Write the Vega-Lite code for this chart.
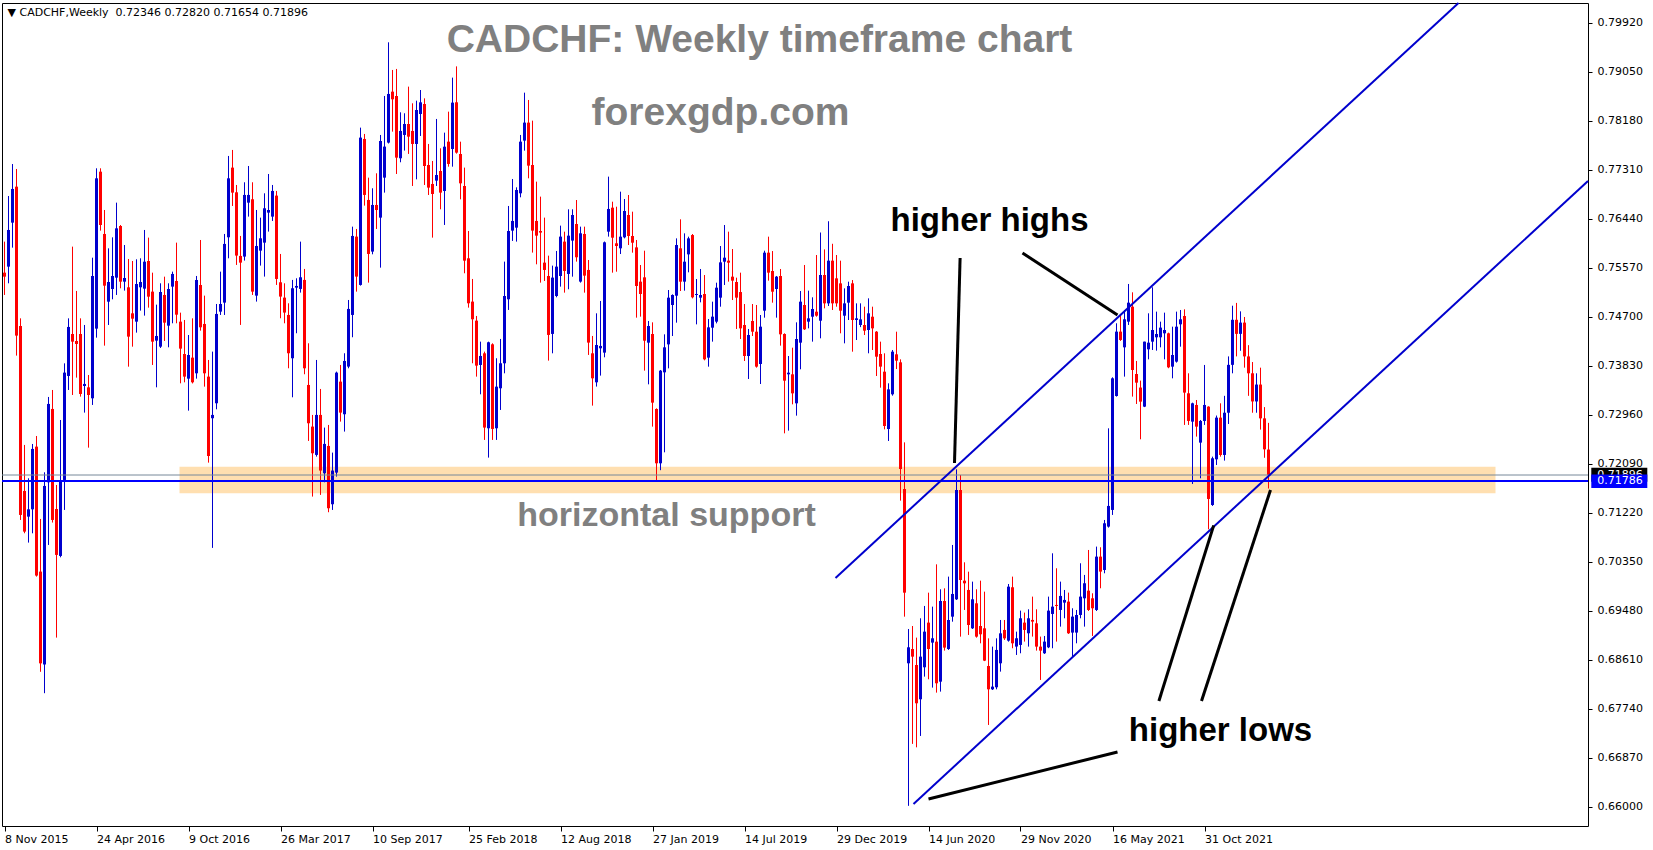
{
"$schema":"https://vega.github.io/schema/vega-lite/v6.json",
"width":1586,"height":823,
"padding":{"left":2,"top":3,"right":65,"bottom":24},
"autosize":{"type":"none"},
"background":"white",
"config":{"view":{"stroke":"black","strokeWidth":1},
 "axisX":{"grid":false,"domain":false,"tickColor":"black","tickSize":5,"labelAlign":"left","labelBaseline":"top","labelPadding":2,"labelFont":"DejaVu Sans","labelFontSize":11,"labelColor":"black","labelOverlap":false},
 "axisY":{"grid":false,"domain":false,"tickColor":"black","tickSize":4,"labelPadding":5,"labelFont":"DejaVu Sans","labelFontSize":11,"labelColor":"black","labelAlign":"left","labelBaseline":"middle","labelOverlap":false}},
"datasets":{
"candles":[
{"i":0,"o":0.75487,"h":0.76038,"l":0.75091,"c":0.75416},
{"i":1,"o":0.75594,"h":0.76848,"l":0.75298,"c":0.76245},
{"i":2,"o":0.76375,"h":0.77416,"l":0.75931,"c":0.76973},
{"i":3,"o":0.77014,"h":0.77328,"l":0.74014,"c":0.74369},
{"i":4,"o":0.74540,"h":0.74676,"l":0.71096,"c":0.71185},
{"i":5,"o":0.71611,"h":0.72428,"l":0.70860,"c":0.70889},
{"i":6,"o":0.71155,"h":0.71836,"l":0.70694,"c":0.71285},
{"i":7,"o":0.71285,"h":0.72445,"l":0.70859,"c":0.72357},
{"i":8,"o":0.72398,"h":0.72587,"l":0.70090,"c":0.70108},
{"i":9,"o":0.70179,"h":0.71114,"l":0.68400,"c":0.68550},
{"i":10,"o":0.68530,"h":0.71942,"l":0.68020,"c":0.71700},
{"i":11,"o":0.71765,"h":0.73280,"l":0.70652,"c":0.73156},
{"i":12,"o":0.73067,"h":0.73404,"l":0.71050,"c":0.71096},
{"i":13,"o":0.71291,"h":0.71717,"l":0.69007,"c":0.70475},
{"i":14,"o":0.70457,"h":0.72871,"l":0.70433,"c":0.71806},
{"i":15,"o":0.71806,"h":0.73877,"l":0.71274,"c":0.73712},
{"i":16,"o":0.73653,"h":0.74676,"l":0.73404,"c":0.74523},
{"i":17,"o":0.74398,"h":0.75949,"l":0.73315,"c":0.74262},
{"i":18,"o":0.74274,"h":0.75162,"l":0.73623,"c":0.74221},
{"i":19,"o":0.74398,"h":0.74676,"l":0.73286,"c":0.73333},
{"i":20,"o":0.73475,"h":0.74558,"l":0.73002,"c":0.73511},
{"i":21,"o":0.73451,"h":0.73670,"l":0.72380,"c":0.73315},
{"i":22,"o":0.73256,"h":0.75753,"l":0.73138,"c":0.75428},
{"i":23,"o":0.74493,"h":0.77340,"l":0.74333,"c":0.77162},
{"i":24,"o":0.77280,"h":0.77340,"l":0.76233,"c":0.76333},
{"i":25,"o":0.76174,"h":0.76600,"l":0.74191,"c":0.75256},
{"i":26,"o":0.74972,"h":0.75919,"l":0.74558,"c":0.75321},
{"i":27,"o":0.75197,"h":0.76114,"l":0.75014,"c":0.75428},
{"i":28,"o":0.75398,"h":0.76730,"l":0.75091,"c":0.76274},
{"i":29,"o":0.76316,"h":0.76333,"l":0.75209,"c":0.75327},
{"i":30,"o":0.75327,"h":0.75978,"l":0.75168,"c":0.75392},
{"i":31,"o":0.75227,"h":0.75730,"l":0.73818,"c":0.74351},
{"i":32,"o":0.74765,"h":0.75694,"l":0.74173,"c":0.74670},
{"i":33,"o":0.74617,"h":0.75724,"l":0.74422,"c":0.75286},
{"i":34,"o":0.75227,"h":0.75742,"l":0.74813,"c":0.75321},
{"i":35,"o":0.75203,"h":0.76245,"l":0.74724,"c":0.75682},
{"i":36,"o":0.75694,"h":0.76109,"l":0.74866,"c":0.75061},
{"i":37,"o":0.75150,"h":0.75487,"l":0.73848,"c":0.74262},
{"i":38,"o":0.74280,"h":0.74919,"l":0.73451,"c":0.74363},
{"i":39,"o":0.74173,"h":0.75298,"l":0.74150,"c":0.75144},
{"i":40,"o":0.75091,"h":0.75416,"l":0.74274,"c":0.74599},
{"i":41,"o":0.74546,"h":0.75298,"l":0.74162,"c":0.75197},
{"i":42,"o":0.75239,"h":0.75505,"l":0.74588,"c":0.75464},
{"i":43,"o":0.75339,"h":0.76020,"l":0.74588,"c":0.74741},
{"i":44,"o":0.74617,"h":0.74777,"l":0.73522,"c":0.74138},
{"i":45,"o":0.74043,"h":0.74647,"l":0.73540,"c":0.73641},
{"i":46,"o":0.73605,"h":0.74380,"l":0.73037,"c":0.74025},
{"i":47,"o":0.73978,"h":0.74676,"l":0.73520,"c":0.73540},
{"i":48,"o":0.73700,"h":0.75428,"l":0.73605,"c":0.75357},
{"i":49,"o":0.75268,"h":0.76067,"l":0.74457,"c":0.74517},
{"i":50,"o":0.74576,"h":0.75079,"l":0.73463,"c":0.73700},
{"i":51,"o":0.73641,"h":0.73937,"l":0.72114,"c":0.72232},
{"i":52,"o":0.72902,"h":0.74085,"l":0.70600,"c":0.72961},
{"i":53,"o":0.73168,"h":0.74931,"l":0.73061,"c":0.74754},
{"i":54,"o":0.74795,"h":0.75505,"l":0.74736,"c":0.74931},
{"i":55,"o":0.74955,"h":0.76174,"l":0.74736,"c":0.75997},
{"i":56,"o":0.76115,"h":0.77559,"l":0.75742,"c":0.77162},
{"i":57,"o":0.77352,"h":0.77666,"l":0.76671,"c":0.76908},
{"i":58,"o":0.76914,"h":0.77044,"l":0.75624,"c":0.75790},
{"i":59,"o":0.75784,"h":0.76139,"l":0.74559,"c":0.75665},
{"i":60,"o":0.75772,"h":0.77092,"l":0.75701,"c":0.76867},
{"i":61,"o":0.76730,"h":0.77381,"l":0.76482,"c":0.76867},
{"i":62,"o":0.76790,"h":0.77092,"l":0.75091,"c":0.75150},
{"i":63,"o":0.75079,"h":0.76600,"l":0.74973,"c":0.75961},
{"i":64,"o":0.75878,"h":0.76464,"l":0.75612,"c":0.76097},
{"i":65,"o":0.76020,"h":0.76896,"l":0.75417,"c":0.76630},
{"i":66,"o":0.76553,"h":0.77239,"l":0.76216,"c":0.76600},
{"i":67,"o":0.76482,"h":0.77044,"l":0.76405,"c":0.76938},
{"i":68,"o":0.76855,"h":0.76938,"l":0.75269,"c":0.75375},
{"i":69,"o":0.75316,"h":0.75819,"l":0.74677,"c":0.75062},
{"i":70,"o":0.75044,"h":0.75298,"l":0.74588,"c":0.74778},
{"i":71,"o":0.74736,"h":0.74943,"l":0.73789,"c":0.74056},
{"i":72,"o":0.73967,"h":0.75358,"l":0.73274,"c":0.75210},
{"i":73,"o":0.75221,"h":0.75387,"l":0.74411,"c":0.75251},
{"i":74,"o":0.75198,"h":0.76038,"l":0.75133,"c":0.75405},
{"i":75,"o":0.75358,"h":0.75553,"l":0.73683,"c":0.73789},
{"i":76,"o":0.73493,"h":0.74233,"l":0.72499,"c":0.72813},
{"i":77,"o":0.72754,"h":0.72961,"l":0.71511,"c":0.72280},
{"i":78,"o":0.72251,"h":0.73937,"l":0.72221,"c":0.72961},
{"i":79,"o":0.72961,"h":0.73422,"l":0.71541,"c":0.71973},
{"i":80,"o":0.71925,"h":0.72736,"l":0.71765,"c":0.72446},
{"i":81,"o":0.72410,"h":0.72783,"l":0.71233,"c":0.71304},
{"i":82,"o":0.71375,"h":0.72292,"l":0.71274,"c":0.71973},
{"i":83,"o":0.71937,"h":0.73730,"l":0.71866,"c":0.73712},
{"i":84,"o":0.73552,"h":0.73848,"l":0.72842,"c":0.73002},
{"i":85,"o":0.72973,"h":0.74056,"l":0.72665,"c":0.73919},
{"i":86,"o":0.73819,"h":0.75002,"l":0.73789,"c":0.74843},
{"i":87,"o":0.74736,"h":0.76304,"l":0.74340,"c":0.76139},
{"i":88,"o":0.76127,"h":0.76263,"l":0.75150,"c":0.75417},
{"i":89,"o":0.75269,"h":0.78062,"l":0.75257,"c":0.77885},
{"i":90,"o":0.77861,"h":0.77950,"l":0.76677,"c":0.76867},
{"i":91,"o":0.76778,"h":0.77174,"l":0.75310,"c":0.75819},
{"i":92,"o":0.75861,"h":0.76985,"l":0.75813,"c":0.76689},
{"i":93,"o":0.76689,"h":0.77251,"l":0.76263,"c":0.76600},
{"i":94,"o":0.76464,"h":0.77932,"l":0.75576,"c":0.77825},
{"i":95,"o":0.77174,"h":0.78624,"l":0.76908,"c":0.77725},
{"i":96,"o":0.77796,"h":0.79577,"l":0.77780,"c":0.78660},
{"i":97,"o":0.78701,"h":0.79086,"l":0.77991,"c":0.78565},
{"i":98,"o":0.78624,"h":0.79104,"l":0.77239,"c":0.77529},
{"i":99,"o":0.77518,"h":0.78334,"l":0.77447,"c":0.78003},
{"i":100,"o":0.77932,"h":0.78317,"l":0.77654,"c":0.78127},
{"i":101,"o":0.78127,"h":0.78790,"l":0.77595,"c":0.77902},
{"i":102,"o":0.78003,"h":0.78494,"l":0.77026,"c":0.77772},
{"i":103,"o":0.77772,"h":0.78541,"l":0.77144,"c":0.78375},
{"i":104,"o":0.78304,"h":0.78730,"l":0.77914,"c":0.78511},
{"i":105,"o":0.78482,"h":0.78582,"l":0.77044,"c":0.77381},
{"i":106,"o":0.77399,"h":0.77772,"l":0.76866,"c":0.76997},
{"i":107,"o":0.77062,"h":0.77470,"l":0.76109,"c":0.76884},
{"i":108,"o":0.77121,"h":0.78216,"l":0.77026,"c":0.77221},
{"i":109,"o":0.77292,"h":0.77695,"l":0.76612,"c":0.76908},
{"i":110,"o":0.76937,"h":0.77973,"l":0.76334,"c":0.77724},
{"i":111,"o":0.77813,"h":0.78346,"l":0.77369,"c":0.77417},
{"i":112,"o":0.77683,"h":0.78950,"l":0.77369,"c":0.78506},
{"i":113,"o":0.78512,"h":0.79150,"l":0.77600,"c":0.77618},
{"i":114,"o":0.77594,"h":0.77813,"l":0.76789,"c":0.77073},
{"i":115,"o":0.77026,"h":0.77352,"l":0.75476,"c":0.75700},
{"i":116,"o":0.75742,"h":0.76227,"l":0.74866,"c":0.74943},
{"i":117,"o":0.74973,"h":0.75375,"l":0.73878,"c":0.74659},
{"i":118,"o":0.74635,"h":0.74718,"l":0.73641,"c":0.73836},
{"i":119,"o":0.73848,"h":0.74262,"l":0.73327,"c":0.74008},
{"i":120,"o":0.74055,"h":0.74085,"l":0.72517,"c":0.72736},
{"i":121,"o":0.72724,"h":0.74262,"l":0.72203,"c":0.74251},
{"i":122,"o":0.74215,"h":0.74233,"l":0.72517,"c":0.72712},
{"i":123,"o":0.72724,"h":0.73967,"l":0.72517,"c":0.73463},
{"i":124,"o":0.73434,"h":0.74310,"l":0.73049,"c":0.73878},
{"i":125,"o":0.73878,"h":0.75683,"l":0.73700,"c":0.75073},
{"i":126,"o":0.75014,"h":0.76671,"l":0.74825,"c":0.76227},
{"i":127,"o":0.76233,"h":0.77150,"l":0.76050,"c":0.76405},
{"i":128,"o":0.76286,"h":0.77002,"l":0.76038,"c":0.76955},
{"i":129,"o":0.76896,"h":0.77932,"l":0.76825,"c":0.77813},
{"i":130,"o":0.77831,"h":0.78683,"l":0.77653,"c":0.78151},
{"i":131,"o":0.78151,"h":0.78553,"l":0.77162,"c":0.77387},
{"i":132,"o":0.77399,"h":0.78186,"l":0.75843,"c":0.76233},
{"i":133,"o":0.76405,"h":0.77103,"l":0.75635,"c":0.76144},
{"i":134,"o":0.76227,"h":0.76837,"l":0.75310,"c":0.76198},
{"i":135,"o":0.75665,"h":0.76464,"l":0.75339,"c":0.75535},
{"i":136,"o":0.75428,"h":0.75789,"l":0.73925,"c":0.74381},
{"i":137,"o":0.74399,"h":0.75612,"l":0.74055,"c":0.75399},
{"i":138,"o":0.75073,"h":0.75872,"l":0.75050,"c":0.75594},
{"i":139,"o":0.75428,"h":0.76322,"l":0.75239,"c":0.76127},
{"i":140,"o":0.76038,"h":0.76215,"l":0.75132,"c":0.75517},
{"i":141,"o":0.75464,"h":0.76612,"l":0.75192,"c":0.76144},
{"i":142,"o":0.76056,"h":0.76612,"l":0.75416,"c":0.76511},
{"i":143,"o":0.76351,"h":0.76777,"l":0.75683,"c":0.75760},
{"i":144,"o":0.75328,"h":0.76304,"l":0.75310,"c":0.76186},
{"i":145,"o":0.76174,"h":0.76304,"l":0.75132,"c":0.75434},
{"i":146,"o":0.75535,"h":0.75712,"l":0.74026,"c":0.74245},
{"i":147,"o":0.74055,"h":0.74363,"l":0.73126,"c":0.73611},
{"i":148,"o":0.73540,"h":0.74765,"l":0.73464,"c":0.74203},
{"i":149,"o":0.74144,"h":0.74984,"l":0.73659,"c":0.74186},
{"i":150,"o":0.74067,"h":0.76040,"l":0.73984,"c":0.76026},
{"i":151,"o":0.76215,"h":0.77192,"l":0.76127,"c":0.76618},
{"i":152,"o":0.76641,"h":0.76747,"l":0.75487,"c":0.76108},
{"i":153,"o":0.76008,"h":0.76658,"l":0.75504,"c":0.75960},
{"i":154,"o":0.75919,"h":0.76925,"l":0.75818,"c":0.76126},
{"i":155,"o":0.76114,"h":0.76795,"l":0.76096,"c":0.76582},
{"i":156,"o":0.76511,"h":0.76866,"l":0.75978,"c":0.76138},
{"i":157,"o":0.76138,"h":0.76570,"l":0.75842,"c":0.76019},
{"i":158,"o":0.75936,"h":0.76067,"l":0.74688,"c":0.75250},
{"i":159,"o":0.75327,"h":0.75623,"l":0.74706,"c":0.75108},
{"i":160,"o":0.75404,"h":0.75877,"l":0.73747,"c":0.74279},
{"i":161,"o":0.74244,"h":0.74629,"l":0.73504,"c":0.74540},
{"i":162,"o":0.74398,"h":0.74605,"l":0.72753,"c":0.73179},
{"i":163,"o":0.73066,"h":0.73078,"l":0.71780,"c":0.72102},
{"i":164,"o":0.72102,"h":0.73759,"l":0.71980,"c":0.73747},
{"i":165,"o":0.73717,"h":0.74392,"l":0.72297,"c":0.74161},
{"i":166,"o":0.74214,"h":0.75179,"l":0.73788,"c":0.75043},
{"i":167,"o":0.74913,"h":0.75102,"l":0.74362,"c":0.75090},
{"i":168,"o":0.75078,"h":0.76096,"l":0.74599,"c":0.75978},
{"i":169,"o":0.75919,"h":0.76434,"l":0.75161,"c":0.75327},
{"i":170,"o":0.75327,"h":0.76185,"l":0.75167,"c":0.75682},
{"i":171,"o":0.75812,"h":0.76126,"l":0.75493,"c":0.76096},
{"i":172,"o":0.76155,"h":0.76173,"l":0.75030,"c":0.75049},
{"i":173,"o":0.75090,"h":0.75374,"l":0.74569,"c":0.75108},
{"i":174,"o":0.75043,"h":0.75552,"l":0.74960,"c":0.75090},
{"i":175,"o":0.75108,"h":0.75445,"l":0.73930,"c":0.73948},
{"i":176,"o":0.73978,"h":0.74664,"l":0.73818,"c":0.74516},
{"i":177,"o":0.74510,"h":0.74972,"l":0.74262,"c":0.74706},
{"i":178,"o":0.74617,"h":0.75309,"l":0.74587,"c":0.75220},
{"i":179,"o":0.75043,"h":0.75960,"l":0.74883,"c":0.75670},
{"i":180,"o":0.75682,"h":0.76333,"l":0.75268,"c":0.75753},
{"i":181,"o":0.75700,"h":0.76215,"l":0.75327,"c":0.75664},
{"i":182,"o":0.75416,"h":0.75907,"l":0.75001,"c":0.75345},
{"i":183,"o":0.75321,"h":0.75398,"l":0.74487,"c":0.75043},
{"i":184,"o":0.75143,"h":0.75487,"l":0.74309,"c":0.74498},
{"i":185,"o":0.74558,"h":0.74930,"l":0.73918,"c":0.74007},
{"i":186,"o":0.74007,"h":0.74487,"l":0.73599,"c":0.74380},
{"i":187,"o":0.74629,"h":0.74930,"l":0.74362,"c":0.74439},
{"i":188,"o":0.74439,"h":0.74913,"l":0.73800,"c":0.73818},
{"i":189,"o":0.73865,"h":0.74735,"l":0.73510,"c":0.74528},
{"i":190,"o":0.74812,"h":0.75877,"l":0.74688,"c":0.75842},
{"i":191,"o":0.75842,"h":0.76126,"l":0.75345,"c":0.75487},
{"i":192,"o":0.75516,"h":0.75871,"l":0.74954,"c":0.75149},
{"i":193,"o":0.75197,"h":0.75428,"l":0.74688,"c":0.75416},
{"i":194,"o":0.75428,"h":0.75552,"l":0.74191,"c":0.74392},
{"i":195,"o":0.74398,"h":0.74410,"l":0.72634,"c":0.73569},
{"i":196,"o":0.73682,"h":0.74007,"l":0.72682,"c":0.73711},
{"i":197,"o":0.73682,"h":0.74155,"l":0.73149,"c":0.73344},
{"i":198,"o":0.73167,"h":0.74605,"l":0.72948,"c":0.74309},
{"i":199,"o":0.74244,"h":0.75161,"l":0.73771,"c":0.74972},
{"i":200,"o":0.74913,"h":0.75623,"l":0.74469,"c":0.74481},
{"i":201,"o":0.74617,"h":0.75167,"l":0.74498,"c":0.74676},
{"i":202,"o":0.74705,"h":0.75049,"l":0.74262,"c":0.74842},
{"i":203,"o":0.74794,"h":0.75800,"l":0.74705,"c":0.74723},
{"i":204,"o":0.74634,"h":0.76200,"l":0.74321,"c":0.75445},
{"i":205,"o":0.75445,"h":0.75900,"l":0.74853,"c":0.74942},
{"i":206,"o":0.74942,"h":0.76400,"l":0.74895,"c":0.75700},
{"i":207,"o":0.75700,"h":0.76000,"l":0.74824,"c":0.74942},
{"i":208,"o":0.75386,"h":0.75800,"l":0.74883,"c":0.74942},
{"i":209,"o":0.75297,"h":0.75700,"l":0.74410,"c":0.74812},
{"i":210,"o":0.74723,"h":0.75208,"l":0.74232,"c":0.74942},
{"i":211,"o":0.74954,"h":0.75327,"l":0.74646,"c":0.75250},
{"i":212,"o":0.75297,"h":0.75356,"l":0.74084,"c":0.74646},
{"i":213,"o":0.74646,"h":0.74942,"l":0.74291,"c":0.74676},
{"i":214,"o":0.74558,"h":0.74942,"l":0.74520,"c":0.74658},
{"i":215,"o":0.74558,"h":0.74883,"l":0.74380,"c":0.74457},
{"i":216,"o":0.74469,"h":0.75031,"l":0.74055,"c":0.74765},
{"i":217,"o":0.74705,"h":0.74883,"l":0.74114,"c":0.74498},
{"i":218,"o":0.74439,"h":0.74450,"l":0.73652,"c":0.73995},
{"i":219,"o":0.74043,"h":0.74262,"l":0.73445,"c":0.73818},
{"i":220,"o":0.73729,"h":0.74055,"l":0.72705,"c":0.72764},
{"i":221,"o":0.72711,"h":0.73522,"l":0.72498,"c":0.73415},
{"i":222,"o":0.73327,"h":0.74114,"l":0.73303,"c":0.74084},
{"i":223,"o":0.74037,"h":0.74439,"l":0.73776,"c":0.73924},
{"i":224,"o":0.73895,"h":0.73948,"l":0.71439,"c":0.72001},
{"i":225,"o":0.71646,"h":0.72474,"l":0.69379,"c":0.69805},
{"i":226,"o":0.68551,"h":0.69160,"l":0.66020,"c":0.68835},
{"i":227,"o":0.68805,"h":0.69213,"l":0.67120,"c":0.68669},
{"i":228,"o":0.68521,"h":0.69007,"l":0.67059,"c":0.67841},
{"i":229,"o":0.67912,"h":0.69350,"l":0.67261,"c":0.68669},
{"i":230,"o":0.68480,"h":0.69569,"l":0.68314,"c":0.69113},
{"i":231,"o":0.69273,"h":0.69805,"l":0.68267,"c":0.68805},
{"i":232,"o":0.68918,"h":0.69557,"l":0.68119,"c":0.68995},
{"i":233,"o":0.68935,"h":0.70308,"l":0.68030,"c":0.68196},
{"i":234,"o":0.68225,"h":0.69865,"l":0.68048,"c":0.69657},
{"i":235,"o":0.69657,"h":0.69882,"l":0.68776,"c":0.68829},
{"i":236,"o":0.68805,"h":0.70090,"l":0.68788,"c":0.69320},
{"i":237,"o":0.69379,"h":0.70652,"l":0.69290,"c":0.69782},
{"i":238,"o":0.69687,"h":0.71995,"l":0.69675,"c":0.71628},
{"i":239,"o":0.71628,"h":0.71894,"l":0.69024,"c":0.70030},
{"i":240,"o":0.70018,"h":0.70344,"l":0.69498,"c":0.69971},
{"i":241,"o":0.69853,"h":0.70178,"l":0.69054,"c":0.69231},
{"i":242,"o":0.69172,"h":0.70001,"l":0.69160,"c":0.69687},
{"i":243,"o":0.69616,"h":0.69865,"l":0.69006,"c":0.69024},
{"i":244,"o":0.69213,"h":0.70018,"l":0.68906,"c":0.69066},
{"i":245,"o":0.69172,"h":0.69823,"l":0.68590,"c":0.68598},
{"i":246,"o":0.68503,"h":0.68994,"l":0.67456,"c":0.68089},
{"i":247,"o":0.68089,"h":0.68847,"l":0.68077,"c":0.68137},
{"i":248,"o":0.68125,"h":0.68994,"l":0.68089,"c":0.68788},
{"i":249,"o":0.68551,"h":0.69320,"l":0.68403,"c":0.69083},
{"i":250,"o":0.69143,"h":0.69320,"l":0.68965,"c":0.68994},
{"i":251,"o":0.68953,"h":0.69959,"l":0.68935,"c":0.69912},
{"i":252,"o":0.69901,"h":0.70090,"l":0.68818,"c":0.68906},
{"i":253,"o":0.68847,"h":0.69113,"l":0.68699,"c":0.68995},
{"i":254,"o":0.68877,"h":0.69486,"l":0.68729,"c":0.69350},
{"i":255,"o":0.69273,"h":0.69451,"l":0.68936,"c":0.69143},
{"i":256,"o":0.69084,"h":0.69510,"l":0.68847,"c":0.69350},
{"i":257,"o":0.69321,"h":0.69735,"l":0.69025,"c":0.69291},
{"i":258,"o":0.69261,"h":0.69510,"l":0.68776,"c":0.68847},
{"i":259,"o":0.68847,"h":0.69025,"l":0.68255,"c":0.68776},
{"i":260,"o":0.68729,"h":0.69036,"l":0.68717,"c":0.68936},
{"i":261,"o":0.68835,"h":0.69735,"l":0.68820,"c":0.69486},
{"i":262,"o":0.69427,"h":0.70504,"l":0.68818,"c":0.69557},
{"i":263,"o":0.69587,"h":0.70238,"l":0.68936,"c":0.69569},
{"i":264,"o":0.69498,"h":0.70001,"l":0.69202,"c":0.69747},
{"i":265,"o":0.69628,"h":0.69853,"l":0.69350,"c":0.69676},
{"i":266,"o":0.69646,"h":0.69806,"l":0.69072,"c":0.69084},
{"i":267,"o":0.69096,"h":0.69528,"l":0.68670,"c":0.69380},
{"i":268,"o":0.69096,"h":0.69498,"l":0.68906,"c":0.69409},
{"i":269,"o":0.69409,"h":0.70327,"l":0.69350,"c":0.69735},
{"i":270,"o":0.69705,"h":0.70120,"l":0.69202,"c":0.69972},
{"i":271,"o":0.69841,"h":0.70563,"l":0.69480,"c":0.69498},
{"i":272,"o":0.69705,"h":0.69794,"l":0.69036,"c":0.69528},
{"i":273,"o":0.69498,"h":0.70623,"l":0.69480,"c":0.70445},
{"i":274,"o":0.70445,"h":0.70611,"l":0.69883,"c":0.70179},
{"i":275,"o":0.70208,"h":0.71096,"l":0.70149,"c":0.71037},
{"i":276,"o":0.70978,"h":0.72723,"l":0.70960,"c":0.71345},
{"i":277,"o":0.71274,"h":0.73629,"l":0.71185,"c":0.73611},
{"i":278,"o":0.73297,"h":0.74588,"l":0.73286,"c":0.74440},
{"i":279,"o":0.74440,"h":0.74736,"l":0.74275,"c":0.74292},
{"i":280,"o":0.74161,"h":0.74824,"l":0.73641,"c":0.74659},
{"i":281,"o":0.74617,"h":0.75286,"l":0.74558,"c":0.74954},
{"i":282,"o":0.74883,"h":0.75138,"l":0.73286,"c":0.73759},
{"i":283,"o":0.73688,"h":0.73919,"l":0.73155,"c":0.73534},
{"i":284,"o":0.73447,"h":0.73570,"l":0.72528,"c":0.73197},
{"i":285,"o":0.73108,"h":0.74262,"l":0.73100,"c":0.74262},
{"i":286,"o":0.74126,"h":0.74765,"l":0.73948,"c":0.74244},
{"i":287,"o":0.74262,"h":0.75227,"l":0.74114,"c":0.74469},
{"i":288,"o":0.74339,"h":0.74795,"l":0.74102,"c":0.74398},
{"i":289,"o":0.74339,"h":0.74617,"l":0.74161,"c":0.74511},
{"i":290,"o":0.74410,"h":0.74777,"l":0.73948,"c":0.74469},
{"i":291,"o":0.74410,"h":0.74422,"l":0.73790,"c":0.73806},
{"i":292,"o":0.73818,"h":0.74528,"l":0.73611,"c":0.74025},
{"i":293,"o":0.73907,"h":0.74795,"l":0.73890,"c":0.74528},
{"i":294,"o":0.74570,"h":0.74824,"l":0.74173,"c":0.74659},
{"i":295,"o":0.74718,"h":0.74836,"l":0.72783,"c":0.73357},
{"i":296,"o":0.73345,"h":0.73700,"l":0.72783,"c":0.72854},
{"i":297,"o":0.72842,"h":0.73179,"l":0.71735,"c":0.73167},
{"i":298,"o":0.73138,"h":0.73226,"l":0.72576,"c":0.72753},
{"i":299,"o":0.72469,"h":0.72871,"l":0.71836,"c":0.72854},
{"i":300,"o":0.72854,"h":0.73848,"l":0.72783,"c":0.73138},
{"i":301,"o":0.73108,"h":0.73115,"l":0.70930,"c":0.71469},
{"i":302,"o":0.71362,"h":0.72220,"l":0.71345,"c":0.72191},
{"i":303,"o":0.72173,"h":0.72950,"l":0.72072,"c":0.72913},
{"i":304,"o":0.72913,"h":0.73167,"l":0.72220,"c":0.72250},
{"i":305,"o":0.72250,"h":0.73300,"l":0.72150,"c":0.73000},
{"i":306,"o":0.73000,"h":0.74000,"l":0.72800,"c":0.73850},
{"i":307,"o":0.73850,"h":0.74900,"l":0.73700,"c":0.74650},
{"i":308,"o":0.74650,"h":0.74950,"l":0.74000,"c":0.74400},
{"i":309,"o":0.74400,"h":0.74800,"l":0.74100,"c":0.74600},
{"i":310,"o":0.74600,"h":0.74700,"l":0.73800,"c":0.74000},
{"i":311,"o":0.74000,"h":0.74200,"l":0.73300,"c":0.73700},
{"i":312,"o":0.73700,"h":0.73900,"l":0.73000,"c":0.73200},
{"i":313,"o":0.73200,"h":0.73700,"l":0.73000,"c":0.73500},
{"i":314,"o":0.73500,"h":0.73800,"l":0.72700,"c":0.72900},
{"i":315,"o":0.72900,"h":0.73100,"l":0.72200,"c":0.72350},
{"i":316,"o":0.72346,"h":0.72820,"l":0.71654,"c":0.71896}
]
},
"layer":[
{"data":{"values":[{"x1":43.75,"x2":372.75,"y1":0.72042,"y2":0.71570}]},
 "mark":{"type":"rect","color":"#FFDFB0"},
 "encoding":{"x":{"field":"x1","type":"quantitative","scale":{"domain":[-0.625,395.875],"nice":false,"zero":false},"title":null,
   "axis":{"values":[0,23,46,69,92,116,139,162,185,208,231,254,277,300],"labelExpr":"['8 Nov 2015','24 Apr 2016','9 Oct 2016','26 Mar 2017','10 Sep 2017','25 Feb 2018','12 Aug 2018','27 Jan 2019','14 Jul 2019','29 Dec 2019','14 Jun 2020','29 Nov 2020','16 May 2021','31 Oct 2021'][indexof([0,23,46,69,92,116,139,162,185,208,231,254,277,300], datum.value)]","title":null}},
  "x2":{"field":"x2"},
  "y":{"field":"y1","type":"quantitative","scale":{"domain":[0.65662,0.80275],"nice":false,"zero":false},"title":null,
   "axis":{"orient":"right","values":[0.66,0.6687,0.6774,0.6861,0.6948,0.7035,0.7122,0.7209,0.7296,0.7383,0.747,0.7557,0.7644,0.7731,0.7818,0.7905,0.7992],"format":".5f","title":null}},
  "y2":{"field":"y2"}}},
{"data":{"name":"candles"},
 "mark":{"type":"rule","strokeWidth":1},
 "encoding":{"x":{"field":"i","type":"quantitative","scale":{"domain":[-0.625,395.875],"nice":false,"zero":false},"title":null,
   "axis":{"values":[0,23,46,69,92,116,139,162,185,208,231,254,277,300],"labelExpr":"['8 Nov 2015','24 Apr 2016','9 Oct 2016','26 Mar 2017','10 Sep 2017','25 Feb 2018','12 Aug 2018','27 Jan 2019','14 Jul 2019','29 Dec 2019','14 Jun 2020','29 Nov 2020','16 May 2021','31 Oct 2021'][indexof([0,23,46,69,92,116,139,162,185,208,231,254,277,300], datum.value)]","title":null}},
  "y":{"field":"l","type":"quantitative","scale":{"domain":[0.65662,0.80275],"nice":false,"zero":false},"title":null,
   "axis":{"orient":"right","values":[0.66,0.6687,0.6774,0.6861,0.6948,0.7035,0.7122,0.7209,0.7296,0.7383,0.747,0.7557,0.7644,0.7731,0.7818,0.7905,0.7992],"format":".5f","title":null}},
  "y2":{"field":"h"},
  "color":{"condition":{"test":"datum.c >= datum.o","value":"#0000CD"},"value":"#FF0000"}}},
{"data":{"name":"candles"},
 "mark":{"type":"rule","strokeWidth":3},
 "encoding":{"x":{"field":"i","type":"quantitative","scale":{"domain":[-0.625,395.875],"nice":false,"zero":false},"title":null,
   "axis":{"values":[0,23,46,69,92,116,139,162,185,208,231,254,277,300],"labelExpr":"['8 Nov 2015','24 Apr 2016','9 Oct 2016','26 Mar 2017','10 Sep 2017','25 Feb 2018','12 Aug 2018','27 Jan 2019','14 Jul 2019','29 Dec 2019','14 Jun 2020','29 Nov 2020','16 May 2021','31 Oct 2021'][indexof([0,23,46,69,92,116,139,162,185,208,231,254,277,300], datum.value)]","title":null}},
  "y":{"field":"o","type":"quantitative","scale":{"domain":[0.65662,0.80275],"nice":false,"zero":false},"title":null,
   "axis":{"orient":"right","values":[0.66,0.6687,0.6774,0.6861,0.6948,0.7035,0.7122,0.7209,0.7296,0.7383,0.747,0.7557,0.7644,0.7731,0.7818,0.7905,0.7992],"format":".5f","title":null}},
  "y2":{"field":"c"},
  "color":{"condition":{"test":"datum.c >= datum.o","value":"#0000CD"},"value":"#FF0000"}}},
{"data":{"values":[{"p":0.71894}]},
 "mark":{"type":"rule","color":"#778899","strokeWidth":1},
 "encoding":{"y":{"field":"p","type":"quantitative","scale":{"domain":[0.65662,0.80275],"nice":false,"zero":false},"title":null,
   "axis":{"orient":"right","values":[0.66,0.6687,0.6774,0.6861,0.6948,0.7035,0.7122,0.7209,0.7296,0.7383,0.747,0.7557,0.7644,0.7731,0.7818,0.7905,0.7992],"format":".5f","title":null}}}},
{"data":{"values":[{"p":0.71786}]},
 "mark":{"type":"rule","color":"#0000FF","strokeWidth":2},
 "encoding":{"y":{"field":"p","type":"quantitative","scale":{"domain":[0.65662,0.80275],"nice":false,"zero":false},"title":null,
   "axis":{"orient":"right","values":[0.66,0.6687,0.6774,0.6861,0.6948,0.7035,0.7122,0.7209,0.7296,0.7383,0.747,0.7557,0.7644,0.7731,0.7818,0.7905,0.7992],"format":".5f","title":null}}}},
{"data":{"values":[{"x1":207.75,"y1":0.70066,"x2":363.5,"y2":0.80275},{"x1":227.25,"y1":0.66053,"x2":395.875,"y2":0.77115}]},
 "mark":{"type":"rule","color":"#0000CD","strokeWidth":2},
 "encoding":{"x":{"field":"x1","type":"quantitative","scale":{"domain":[-0.625,395.875],"nice":false,"zero":false},"title":null,
   "axis":{"values":[0,23,46,69,92,116,139,162,185,208,231,254,277,300],"labelExpr":"['8 Nov 2015','24 Apr 2016','9 Oct 2016','26 Mar 2017','10 Sep 2017','25 Feb 2018','12 Aug 2018','27 Jan 2019','14 Jul 2019','29 Dec 2019','14 Jun 2020','29 Nov 2020','16 May 2021','31 Oct 2021'][indexof([0,23,46,69,92,116,139,162,185,208,231,254,277,300], datum.value)]","title":null}},
  "x2":{"field":"x2"},
  "y":{"field":"y1","type":"quantitative","scale":{"domain":[0.65662,0.80275],"nice":false,"zero":false},"title":null,
   "axis":{"orient":"right","values":[0.66,0.6687,0.6774,0.6861,0.6948,0.7035,0.7122,0.7209,0.7296,0.7383,0.747,0.7557,0.7644,0.7731,0.7818,0.7905,0.7992],"format":".5f","title":null}},
  "y2":{"field":"y2"}}},
{"data":{"values":[
  {"x1":238.9,"y1":0.75747,"x2":237.5,"y2":0.72108},
  {"x1":254.5,"y1":0.75836,"x2":278.25,"y2":0.74735},
  {"x1":231.0,"y1":0.66142,"x2":278.25,"y2":0.66976},
  {"x1":288.6,"y1":0.67882,"x2":302.3,"y2":0.71000},
  {"x1":299.25,"y1":0.67882,"x2":316.5,"y2":0.71628}]},
 "mark":{"type":"rule","color":"black","strokeWidth":3},
 "encoding":{"x":{"field":"x1","type":"quantitative","scale":{"domain":[-0.625,395.875],"nice":false,"zero":false},"title":null,
   "axis":{"values":[0,23,46,69,92,116,139,162,185,208,231,254,277,300],"labelExpr":"['8 Nov 2015','24 Apr 2016','9 Oct 2016','26 Mar 2017','10 Sep 2017','25 Feb 2018','12 Aug 2018','27 Jan 2019','14 Jul 2019','29 Dec 2019','14 Jun 2020','29 Nov 2020','16 May 2021','31 Oct 2021'][indexof([0,23,46,69,92,116,139,162,185,208,231,254,277,300], datum.value)]","title":null}},
  "x2":{"field":"x2"},
  "y":{"field":"y1","type":"quantitative","scale":{"domain":[0.65662,0.80275],"nice":false,"zero":false},"title":null,
   "axis":{"orient":"right","values":[0.66,0.6687,0.6774,0.6861,0.6948,0.7035,0.7122,0.7209,0.7296,0.7383,0.747,0.7557,0.7644,0.7731,0.7818,0.7905,0.7992],"format":".5f","title":null}},
  "y2":{"field":"y2"}}},
{"data":{"values":[{"x":188.75,"y":0.79618,"t":"CADCHF: Weekly timeframe chart"},{"x":179,"y":0.78322,"t":"forexgdp.com"}]},
 "mark":{"type":"text","font":"Liberation Sans","fontWeight":"bold","fontSize":39,"color":"#808080","align":"center","baseline":"middle"},
 "encoding":{"x":{"field":"x","type":"quantitative","scale":{"domain":[-0.625,395.875],"nice":false,"zero":false},"title":null,
   "axis":{"values":[0,23,46,69,92,116,139,162,185,208,231,254,277,300],"labelExpr":"['8 Nov 2015','24 Apr 2016','9 Oct 2016','26 Mar 2017','10 Sep 2017','25 Feb 2018','12 Aug 2018','27 Jan 2019','14 Jul 2019','29 Dec 2019','14 Jun 2020','29 Nov 2020','16 May 2021','31 Oct 2021'][indexof([0,23,46,69,92,116,139,162,185,208,231,254,277,300], datum.value)]","title":null}},
  "y":{"field":"y","type":"quantitative","scale":{"domain":[0.65662,0.80275],"nice":false,"zero":false},"title":null,
   "axis":{"orient":"right","values":[0.66,0.6687,0.6774,0.6861,0.6948,0.7035,0.7122,0.7209,0.7296,0.7383,0.747,0.7557,0.7644,0.7731,0.7818,0.7905,0.7992],"format":".5f","title":null}},
  "text":{"field":"t"}}},
{"data":{"values":[{"x":165.5,"y":0.71167,"t":"horizontal support"}]},
 "mark":{"type":"text","font":"Liberation Sans","fontWeight":"bold","fontSize":34,"color":"#808080","align":"center","baseline":"middle"},
 "encoding":{"x":{"field":"x","type":"quantitative","scale":{"domain":[-0.625,395.875],"nice":false,"zero":false},"title":null,
   "axis":{"values":[0,23,46,69,92,116,139,162,185,208,231,254,277,300],"labelExpr":"['8 Nov 2015','24 Apr 2016','9 Oct 2016','26 Mar 2017','10 Sep 2017','25 Feb 2018','12 Aug 2018','27 Jan 2019','14 Jul 2019','29 Dec 2019','14 Jun 2020','29 Nov 2020','16 May 2021','31 Oct 2021'][indexof([0,23,46,69,92,116,139,162,185,208,231,254,277,300], datum.value)]","title":null}},
  "y":{"field":"y","type":"quantitative","scale":{"domain":[0.65662,0.80275],"nice":false,"zero":false},"title":null,
   "axis":{"orient":"right","values":[0.66,0.6687,0.6774,0.6861,0.6948,0.7035,0.7122,0.7209,0.7296,0.7383,0.747,0.7557,0.7644,0.7731,0.7818,0.7905,0.7992],"format":".5f","title":null}},
  "text":{"field":"t"}}},
{"data":{"values":[{"x":246.25,"y":0.76404,"t":"higher highs"},{"x":304,"y":0.67349,"t":"higher lows"}]},
 "mark":{"type":"text","font":"Liberation Sans","fontWeight":"bold","fontSize":33,"color":"black","align":"center","baseline":"middle"},
 "encoding":{"x":{"field":"x","type":"quantitative","scale":{"domain":[-0.625,395.875],"nice":false,"zero":false},"title":null,
   "axis":{"values":[0,23,46,69,92,116,139,162,185,208,231,254,277,300],"labelExpr":"['8 Nov 2015','24 Apr 2016','9 Oct 2016','26 Mar 2017','10 Sep 2017','25 Feb 2018','12 Aug 2018','27 Jan 2019','14 Jul 2019','29 Dec 2019','14 Jun 2020','29 Nov 2020','16 May 2021','31 Oct 2021'][indexof([0,23,46,69,92,116,139,162,185,208,231,254,277,300], datum.value)]","title":null}},
  "y":{"field":"y","type":"quantitative","scale":{"domain":[0.65662,0.80275],"nice":false,"zero":false},"title":null,
   "axis":{"orient":"right","values":[0.66,0.6687,0.6774,0.6861,0.6948,0.7035,0.7122,0.7209,0.7296,0.7383,0.747,0.7557,0.7644,0.7731,0.7818,0.7905,0.7992],"format":".5f","title":null}},
  "text":{"field":"t"}}},
{"data":{"values":[{"x":0.75,"y":0.80098,"t":"▼ CADCHF,Weekly\u00a0 0.72346 0.72820 0.71654 0.71896"}]},
 "mark":{"type":"text","font":"DejaVu Sans","fontSize":11,"color":"black","align":"left","baseline":"middle"},
 "encoding":{"x":{"field":"x","type":"quantitative","scale":{"domain":[-0.625,395.875],"nice":false,"zero":false},"title":null,
   "axis":{"values":[0,23,46,69,92,116,139,162,185,208,231,254,277,300],"labelExpr":"['8 Nov 2015','24 Apr 2016','9 Oct 2016','26 Mar 2017','10 Sep 2017','25 Feb 2018','12 Aug 2018','27 Jan 2019','14 Jul 2019','29 Dec 2019','14 Jun 2020','29 Nov 2020','16 May 2021','31 Oct 2021'][indexof([0,23,46,69,92,116,139,162,185,208,231,254,277,300], datum.value)]","title":null}},
  "y":{"field":"y","type":"quantitative","scale":{"domain":[0.65662,0.80275],"nice":false,"zero":false},"title":null,
   "axis":{"orient":"right","values":[0.66,0.6687,0.6774,0.6861,0.6948,0.7035,0.7122,0.7209,0.7296,0.7383,0.747,0.7557,0.7644,0.7731,0.7818,0.7905,0.7992],"format":".5f","title":null}},
  "text":{"field":"t"}}},
{"data":{"values":[{"x1":396.7,"x2":410.7,"y1":0.72022,"y2":0.71773}]},
 "mark":{"type":"rect","color":"black"},
 "encoding":{"x":{"field":"x1","type":"quantitative","scale":{"domain":[-0.625,395.875],"nice":false,"zero":false},"title":null,
   "axis":{"values":[0,23,46,69,92,116,139,162,185,208,231,254,277,300],"labelExpr":"['8 Nov 2015','24 Apr 2016','9 Oct 2016','26 Mar 2017','10 Sep 2017','25 Feb 2018','12 Aug 2018','27 Jan 2019','14 Jul 2019','29 Dec 2019','14 Jun 2020','29 Nov 2020','16 May 2021','31 Oct 2021'][indexof([0,23,46,69,92,116,139,162,185,208,231,254,277,300], datum.value)]","title":null}},
  "x2":{"field":"x2"},
  "y":{"field":"y1","type":"quantitative","scale":{"domain":[0.65662,0.80275],"nice":false,"zero":false},"title":null,
   "axis":{"orient":"right","values":[0.66,0.6687,0.6774,0.6861,0.6948,0.7035,0.7122,0.7209,0.7296,0.7383,0.747,0.7557,0.7644,0.7731,0.7818,0.7905,0.7992],"format":".5f","title":null}},
  "y2":{"field":"y2"}}},
{"data":{"values":[{"x":398.2,"y":0.71894,"t":"0.71896"}]},
 "mark":{"type":"text","font":"DejaVu Sans","fontSize":11,"color":"white","align":"left","baseline":"middle"},
 "encoding":{"x":{"field":"x","type":"quantitative","scale":{"domain":[-0.625,395.875],"nice":false,"zero":false},"title":null,
   "axis":{"values":[0,23,46,69,92,116,139,162,185,208,231,254,277,300],"labelExpr":"['8 Nov 2015','24 Apr 2016','9 Oct 2016','26 Mar 2017','10 Sep 2017','25 Feb 2018','12 Aug 2018','27 Jan 2019','14 Jul 2019','29 Dec 2019','14 Jun 2020','29 Nov 2020','16 May 2021','31 Oct 2021'][indexof([0,23,46,69,92,116,139,162,185,208,231,254,277,300], datum.value)]","title":null}},
  "y":{"field":"y","type":"quantitative","scale":{"domain":[0.65662,0.80275],"nice":false,"zero":false},"title":null,
   "axis":{"orient":"right","values":[0.66,0.6687,0.6774,0.6861,0.6948,0.7035,0.7122,0.7209,0.7296,0.7383,0.747,0.7557,0.7644,0.7731,0.7818,0.7905,0.7992],"format":".5f","title":null}},
  "text":{"field":"t"}}},
{"data":{"values":[{"x1":396.7,"x2":410.7,"y1":0.71904,"y2":0.71664}]},
 "mark":{"type":"rect","color":"#0000FF"},
 "encoding":{"x":{"field":"x1","type":"quantitative","scale":{"domain":[-0.625,395.875],"nice":false,"zero":false},"title":null,
   "axis":{"values":[0,23,46,69,92,116,139,162,185,208,231,254,277,300],"labelExpr":"['8 Nov 2015','24 Apr 2016','9 Oct 2016','26 Mar 2017','10 Sep 2017','25 Feb 2018','12 Aug 2018','27 Jan 2019','14 Jul 2019','29 Dec 2019','14 Jun 2020','29 Nov 2020','16 May 2021','31 Oct 2021'][indexof([0,23,46,69,92,116,139,162,185,208,231,254,277,300], datum.value)]","title":null}},
  "x2":{"field":"x2"},
  "y":{"field":"y1","type":"quantitative","scale":{"domain":[0.65662,0.80275],"nice":false,"zero":false},"title":null,
   "axis":{"orient":"right","values":[0.66,0.6687,0.6774,0.6861,0.6948,0.7035,0.7122,0.7209,0.7296,0.7383,0.747,0.7557,0.7644,0.7731,0.7818,0.7905,0.7992],"format":".5f","title":null}},
  "y2":{"field":"y2"}}},
{"data":{"values":[{"x":398.2,"y":0.71786,"t":"0.71786"}]},
 "mark":{"type":"text","font":"DejaVu Sans","fontSize":11,"color":"white","align":"left","baseline":"middle"},
 "encoding":{"x":{"field":"x","type":"quantitative","scale":{"domain":[-0.625,395.875],"nice":false,"zero":false},"title":null,
   "axis":{"values":[0,23,46,69,92,116,139,162,185,208,231,254,277,300],"labelExpr":"['8 Nov 2015','24 Apr 2016','9 Oct 2016','26 Mar 2017','10 Sep 2017','25 Feb 2018','12 Aug 2018','27 Jan 2019','14 Jul 2019','29 Dec 2019','14 Jun 2020','29 Nov 2020','16 May 2021','31 Oct 2021'][indexof([0,23,46,69,92,116,139,162,185,208,231,254,277,300], datum.value)]","title":null}},
  "y":{"field":"y","type":"quantitative","scale":{"domain":[0.65662,0.80275],"nice":false,"zero":false},"title":null,
   "axis":{"orient":"right","values":[0.66,0.6687,0.6774,0.6861,0.6948,0.7035,0.7122,0.7209,0.7296,0.7383,0.747,0.7557,0.7644,0.7731,0.7818,0.7905,0.7992],"format":".5f","title":null}},
  "text":{"field":"t"}}}
]
}
